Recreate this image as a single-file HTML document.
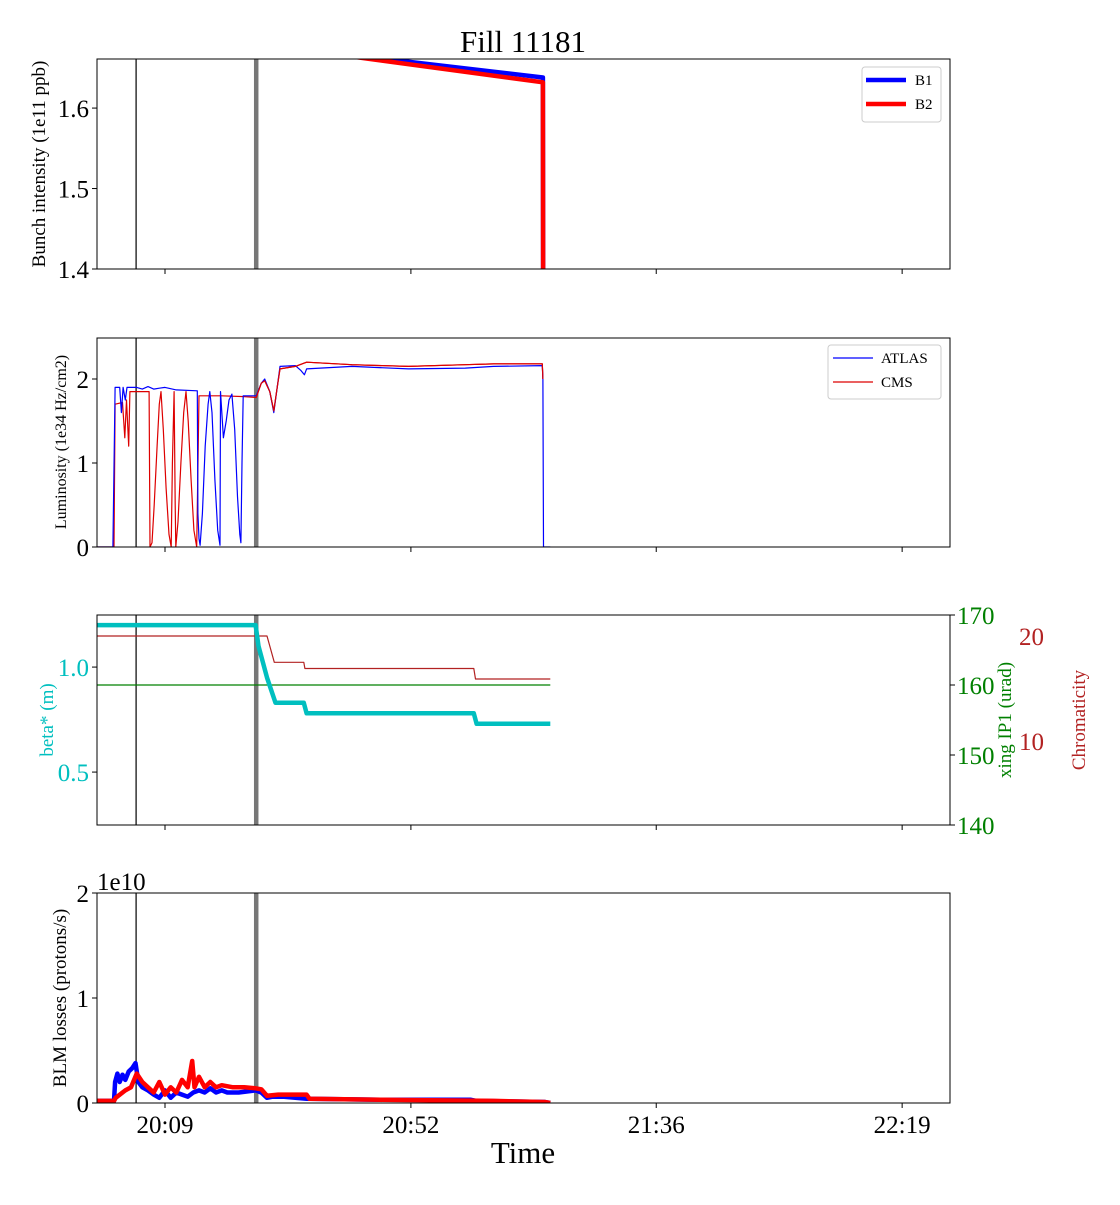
<!DOCTYPE html>
<html><head><meta charset="utf-8"><style>
body{margin:0;background:#fff}
svg{font-family:"Liberation Serif",serif}
</style></head><body>
<svg id="c" width="1120" height="1200" xmlns="http://www.w3.org/2000/svg"></svg>
<script>
const tickMin=[12,55.4,98.7,142.1];
const tickLbl=["20:09","20:52","21:36","22:19"];
const b1=[[46,1.665],[78.7,1.638],[78.75,1.3]];
const b2=[[44,1.665],[78.7,1.632],[78.75,1.3]];
const atlas=[[0,0],[2.8,0],[3.2,1.9],[4,1.9],[4.3,1.6],[4.6,1.9],[5,1.75],[5.3,1.9],[5.8,1.9],[7,1.9],[8,1.88],[9,1.91],[10,1.88],[11,1.89],[12,1.9],[14,1.87],[17.7,1.86],[17.8,0.4],[18.0,0.1],[18.2,0.02],[18.6,0.4],[19.1,1.2],[19.6,1.7],[19.9,1.85],[20.3,1.6],[20.8,0.8],[21.3,0.2],[21.7,0.02],[21.8,1.85],[22.3,1.3],[22.8,1.5],[23.3,1.75],[23.8,1.82],[24.3,1.4],[24.8,0.6],[25.2,0.15],[25.4,0.05],[25.6,1.0],[25.8,1.8],[28.1,1.8],[29,1.95],[29.6,2.0],[30.5,1.85],[31.2,1.6],[31.8,1.9],[32.3,2.15],[35,2.16],[36,2.1],[36.6,2.05],[37,2.12],[45,2.15],[55,2.12],[65,2.13],[70,2.15],[78.6,2.16],[78.7,2.0],[78.8,0],[80,0]];
const cms=[[0,0],[3.0,0],[3.2,1.7],[4.5,1.72],[4.9,1.3],[5.2,1.75],[5.6,1.2],[5.8,1.85],[9.2,1.85],[9.35,0],[9.7,0.05],[10.1,0.5],[10.6,1.2],[11.0,1.7],[11.3,1.85],[11.7,1.4],[12.2,0.7],[12.7,0.15],[13.1,0],[13.3,1.0],[13.6,1.85],[13.8,0.5],[13.9,0],[14.3,0.3],[14.8,1.0],[15.3,1.6],[15.7,1.85],[16.1,1.5],[16.6,0.8],[17.1,0.2],[17.6,0],[18,1.8],[22,1.8],[26,1.79],[28.1,1.78],[29,1.95],[29.6,1.98],[30.5,1.85],[31.2,1.62],[31.8,1.9],[32.3,2.12],[35,2.15],[37,2.2],[45,2.17],[55,2.15],[65,2.17],[70,2.18],[78.6,2.18],[78.7,2.0]];
const beta=[[0,1.2],[28,1.2],[28.5,1.1],[30,0.95],[31.5,0.83],[36.5,0.83],[37,0.78],[66.5,0.78],[67,0.73],[80,0.73]];
const xing=[[0,160],[80,160]];
const chroma=[[0,20],[30,20],[31.3,17.5],[36.5,17.5],[36.7,16.9],[66.5,16.9],[66.8,15.9],[80,15.9]];
const lossB1=[[0,0.02],[3,0.02],[3.2,0.2],[3.6,0.28],[4,0.2],[4.5,0.27],[5,0.22],[5.6,0.3],[6.2,0.33],[6.8,0.38],[7.3,0.2],[8,0.15],[9,0.12],[10,0.08],[11,0.05],[12,0.12],[13,0.05],[14,0.1],[15,0.08],[16,0.06],[17,0.1],[18,0.12],[19,0.1],[20,0.14],[21,0.1],[22,0.12],[23,0.1],[25,0.1],[28,0.12],[29,0.1],[30,0.05],[31,0.06],[33,0.06],[37,0.04],[50,0.03],[66,0.03],[67,0.02],[79,0.01],[80,0]];
const lossB2=[[0,0.02],[3,0.02],[3.3,0.05],[5,0.12],[6,0.15],[7,0.28],[8,0.2],[9,0.15],[10,0.1],[11,0.2],[12,0.08],[13,0.15],[14,0.1],[15,0.22],[16,0.15],[16.8,0.4],[17.2,0.15],[18,0.25],[19,0.15],[20,0.2],[21,0.15],[22,0.17],[24,0.15],[26,0.15],[28,0.14],[29,0.13],[30,0.07],[32,0.08],[37,0.08],[37.5,0.04],[50,0.03],[70,0.02],[79,0.01],[80,0]];
const vMarks=[6.9,28.1];

const S=document.getElementById('c');const NS="http://www.w3.org/2000/svg";
function el(t,a,p){const e=document.createElementNS(NS,t);for(const k in a)e.setAttribute(k,a[k]);(p||S).appendChild(e);return e;}
function txt(s,a,p){const e=el('text',a,p);e.textContent=s;return e;}
const X0=97,X1=950,PX=5.666;
const sx=m=>X0+m*PX;
const panels=[{t:59,b:269,lo:1.4,hi:1.661,n:'intensity'},{t:338,b:547,lo:0,hi:2.488,n:'luminosity'},{t:615,b:825,lo:0.248,hi:1.248,n:'beta'},{t:893,b:1103,lo:0,hi:2,n:'losses'}];
function sy(p,lo,hi){return v=>p.b-(v-lo)/(hi-lo)*(p.b-p.t);}
const defs=el('defs',{});
panels.forEach((p,i)=>{const cp=el('clipPath',{id:'cp'+i},defs);el('rect',{x:X0,y:p.t,width:X1-X0,height:p.b-p.t},cp);});
function line(data,fy,i,color,w,name){
  const d=data.map((q,k)=>(k?'L':'M')+sx(q[0]).toFixed(1)+' '+fy(q[1]).toFixed(1)).join(' ');
  const e=el('path',{d:d,fill:'none',stroke:color,'stroke-width':w,'stroke-linejoin':'round','clip-path':'url(#cp'+i+')'});
  
  
}
txt('Fill 11181',{x:523,y:52,'font-size':31,'text-anchor':'middle',});
panels.forEach((p,i)=>{
  vMarks.forEach((m,k)=>el('line',{x1:sx(m),x2:sx(m),y1:p.t,y2:p.b,stroke:k?'#777':'#000','stroke-width':k?4.5:1.2,}));
  tickMin.forEach((m,k)=>{el('line',{x1:sx(m),x2:sx(m),y1:p.b,y2:p.b+5,stroke:'#000'});
    if(i==3)txt(tickLbl[k],{x:sx(m),y:p.b+30,'font-size':25,'text-anchor':'middle',});});
});
let p=panels[0],fy=sy(p,p.lo,p.hi);
line(b1,fy,0,'#0000ff',4.5,'b1-intensity-line');line(b2,fy,0,'#ff0000',4.5,'b2-intensity-line');
[1.4,1.5,1.6].forEach(v=>{el('line',{x1:X0-5,x2:X0,y1:fy(v),y2:fy(v),stroke:'#000'});txt(v.toFixed(1),{x:X0-8,y:fy(v)+9,'font-size':25,'text-anchor':'end',});});
txt('Bunch intensity (1e11 ppb)',{transform:'translate(45,164) rotate(-90)','font-size':19,'text-anchor':'middle',});
let lg=el('g',{});
el('rect',{x:862,y:67,width:79,height:55,rx:3,fill:'#fff',stroke:'#ccc'},lg);
el('line',{x1:866,x2:906,y1:80,y2:80,stroke:'#0000ff','stroke-width':4.5},lg);txt('B1',{x:915,y:85,'font-size':15},lg);
el('line',{x1:866,x2:906,y1:104,y2:104,stroke:'#ff0000','stroke-width':4.5},lg);txt('B2',{x:915,y:109,'font-size':15},lg);
p=panels[1];fy=sy(p,p.lo,p.hi);
line(cms,fy,1,'#dd0000',1.2,'cms-luminosity-line');line(atlas,fy,1,'#0000ff',1.2,'atlas-luminosity-line');line(cms.filter(q=>q[0]>28),fy,1,'#dd0000',1.2,'cms-luminosity-line-top');
[0,1,2].forEach(v=>{el('line',{x1:X0-5,x2:X0,y1:fy(v),y2:fy(v),stroke:'#000'});txt(String(v),{x:X0-8,y:fy(v)+9,'font-size':25,'text-anchor':'end',});});
txt('Luminosity (1e34 Hz/cm2)',{transform:'translate(66,442) rotate(-90)','font-size':16,'text-anchor':'middle',});
lg=el('g',{});
el('rect',{x:828,y:345,width:113,height:54,rx:3,fill:'#fff',stroke:'#ccc'},lg);
el('line',{x1:833,x2:873,y1:358,y2:358,stroke:'#0000ff','stroke-width':1.2},lg);txt('ATLAS',{x:881,y:363,'font-size':15},lg);
el('line',{x1:833,x2:873,y1:382,y2:382,stroke:'#dd0000','stroke-width':1.2},lg);txt('CMS',{x:881,y:387,'font-size':15},lg);
p=panels[2];fy=sy(p,p.lo,p.hi);const fx=sy(p,140,170),fc=sy(p,2,22);
line(xing,fx,2,'#008000',1.2,'xing-ip1-line');line(chroma,fc,2,'#b22222',1.2,'chromaticity-line');line(beta,fy,2,'#00bfbf',4.5,'beta-star-line');
[0.5,1.0].forEach(v=>{el('line',{x1:X0-5,x2:X0,y1:fy(v),y2:fy(v),stroke:'#000'});txt(v.toFixed(1),{x:X0-8,y:fy(v)+9,'font-size':25,'fill':'#00bfbf','text-anchor':'end',});});
[140,150,160,170].forEach(v=>{el('line',{x1:X1,x2:X1+5,y1:fx(v),y2:fx(v),stroke:'#000'});txt(String(v),{x:X1+7,y:fx(v)+9,'font-size':25,'fill':'#008000',});});
[10,20].forEach(v=>txt(String(v),{x:1019,y:fc(v)+9,'font-size':25,'fill':'#b22222',}));
txt('beta* (m)',{transform:'translate(53,720) rotate(-90)','font-size':19,'fill':'#00bfbf','text-anchor':'middle',});
txt('xing IP1 (urad)',{transform:'translate(1011,720) rotate(-90)','font-size':19,'fill':'#008000','text-anchor':'middle',});
txt('Chromaticity',{transform:'translate(1085,720) rotate(-90)','font-size':19,'fill':'#b22222','text-anchor':'middle',});
p=panels[3];fy=sy(p,p.lo,p.hi);
line(lossB1,fy,3,'#0000ff',4.5,'b1-loss-line');line(lossB2,fy,3,'#ff0000',4.5,'b2-loss-line');
[0,1,2].forEach(v=>{el('line',{x1:X0-5,x2:X0,y1:fy(v),y2:fy(v),stroke:'#000'});txt(String(v),{x:X0-8,y:fy(v)+9,'font-size':25,'text-anchor':'end',});});
txt('1e10',{x:97,y:890,'font-size':25,});
txt('BLM losses (protons/s)',{transform:'translate(66,998) rotate(-90)','font-size':19,'text-anchor':'middle',});
txt('Time',{x:523,y:1163,'font-size':31,'text-anchor':'middle',});
panels.forEach(p=>el('rect',{x:X0,y:p.t,width:X1-X0,height:p.b-p.t,fill:'none',stroke:'#000','stroke-width':1,}));
</script>
</body></html>
